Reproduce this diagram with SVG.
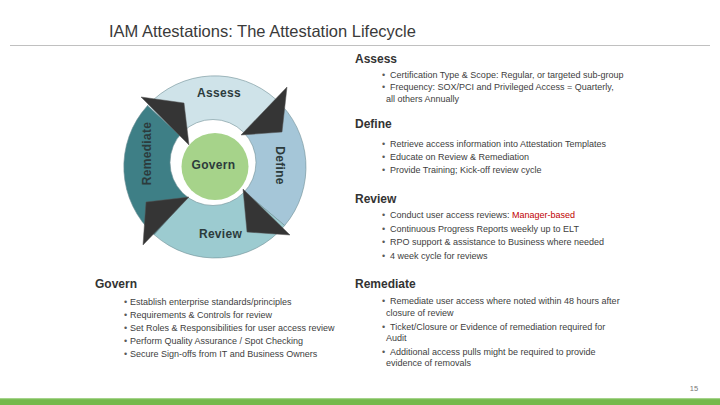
<svg xmlns="http://www.w3.org/2000/svg" width="720" height="405" viewBox="0 0 720 405">
<style>
.title{font-family:"Liberation Sans",Arial,sans-serif;font-size:16.5px;fill:#3a3a3a}
.h{font-family:"Liberation Sans",Arial,sans-serif;font-size:12px;font-weight:bold;fill:#333}
.b{font-family:"Liberation Sans",Arial,sans-serif;font-size:9px;fill:#404040}
.dot{fill:#595959}
.red{fill:#c00000}
.lbl{font-family:"Liberation Sans",Arial,sans-serif;font-size:12px;font-weight:bold;fill:#2c3b3c;letter-spacing:0.3px}
.seg{stroke:#6f8f95;stroke-width:0.6}
.arrow{fill:#353535;stroke:#555;stroke-width:0.5}
</style>
<rect width="720" height="405" fill="#fff"/>
<g id="header">
<text class="title" x="109" y="37">IAM Attestations:  The Attestation Lifecycle</text>
<line x1="10" y1="45.5" x2="710" y2="45.5" stroke="#c0c0c0" stroke-width="1"/>
</g>
<g id="cycle">
<g id="seg-assess"><path class="seg" fill="#cfe3e9" d="M215,167 L147.4,105.7 A91,91 0 0 1 275.9,99.4 Z"/></g>
<g id="seg-define"><path class="seg" fill="#a5c6d8" d="M215,167 L275.9,99.4 A91,91 0 0 1 284.7,225.5 Z"/></g>
<g id="seg-review"><path class="seg" fill="#9ccbd0" d="M215,167 L284.7,225.5 A91,91 0 0 1 154.1,234.6 Z"/></g>
<g id="seg-remediate"><path class="seg" fill="#3e7f86" d="M215,167 L154.1,234.6 A91,91 0 0 1 147.4,105.7 Z"/></g>
<circle cx="213" cy="162.5" r="43" fill="#fff" stroke="#6f8f95" stroke-width="0.6"/>
<g id="govern"><circle cx="215" cy="166.5" r="33.5" fill="#a6d38a"/>
<text class="lbl" x="213.5" y="169" text-anchor="middle" fill="#2f3d33">Govern</text></g>
<text class="lbl" x="219" y="97" text-anchor="middle">Assess</text>
<text class="lbl" x="220.5" y="238" text-anchor="middle">Review</text>
<text class="lbl" transform="translate(276,165.5) rotate(90)" text-anchor="middle">Define</text>
<text class="lbl" transform="translate(151,153.5) rotate(-90)" text-anchor="middle">Remediate</text>
</g>
<g id="connectors">
<polygon class="arrow" points="141,97 184,103 189,145"/>
<polygon class="arrow" points="287,87 241,135 282,132"/>
<polygon class="arrow" points="243,189 247,232 290,235"/>
<polygon class="arrow" points="146,202 189,197 143,245"/>
</g>
<g id="assess-text">
<text class="h" x="355" y="63">Assess</text>
<text class="b dot" x="382" y="77.5">•</text><text class="b" x="390" y="77.5">Certification Type &amp; Scope: Regular, or targeted sub-group</text>
<text class="b dot" x="382" y="90">•</text><text class="b" x="390" y="90">Frequency: SOX/PCI and Privileged Access = Quarterly,</text>
<text class="b" x="386" y="102">all others Annually</text>
</g>
<g id="define-text">
<text class="h" x="355" y="128">Define</text>
<text class="b dot" x="382" y="147">•</text><text class="b" x="390" y="147">Retrieve access information into Attestation Templates</text>
<text class="b dot" x="382" y="160">•</text><text class="b" x="390" y="160">Educate on Review &amp; Remediation</text>
<text class="b dot" x="382" y="173">•</text><text class="b" x="390" y="173">Provide Training; Kick-off review cycle</text>
</g>
<g id="review-text">
<text class="h" x="355" y="203">Review</text>
<text class="b dot" x="382" y="218">•</text><text class="b" x="390" y="218">Conduct user access reviews: <tspan class="red">Manager-based</tspan></text>
<text class="b dot" x="382" y="231.5">•</text><text class="b" x="390" y="231.5">Continuous Progress Reports weekly up to ELT</text>
<text class="b dot" x="382" y="245">•</text><text class="b" x="390" y="245">RPO support &amp; assistance to Business where needed</text>
<text class="b dot" x="382" y="258.5">•</text><text class="b" x="390" y="258.5">4 week cycle for reviews</text>
</g>
<g id="remediate-text">
<text class="h" x="355" y="288">Remediate</text>
<text class="b dot" x="382" y="303.5">•</text><text class="b" x="390" y="303.5">Remediate user access where noted within 48 hours after</text>
<text class="b" x="386" y="315.5">closure of review</text>
<text class="b dot" x="382" y="329.5">•</text><text class="b" x="390" y="329.5">Ticket/Closure or Evidence of remediation required for</text>
<text class="b" x="386" y="341">Audit</text>
<text class="b dot" x="382" y="355">•</text><text class="b" x="390" y="355">Additional access pulls might be required to provide</text>
<text class="b" x="386" y="366">evidence of removals</text>
</g>
<g id="govern-text">
<text class="h" x="95" y="288">Govern</text>
<text class="b dot" x="124" y="305">•</text><text class="b" x="130" y="305">Establish enterprise standards/principles</text>
<text class="b dot" x="124" y="318">•</text><text class="b" x="130" y="318">Requirements &amp; Controls for review</text>
<text class="b dot" x="124" y="331">•</text><text class="b" x="130" y="331">Set Roles &amp; Responsibilities for user access review</text>
<text class="b dot" x="124" y="344">•</text><text class="b" x="130" y="344">Perform  Quality Assurance / Spot Checking</text>
<text class="b dot" x="124" y="357">•</text><text class="b" x="130" y="357">Secure Sign-offs from IT and Business Owners</text>
</g>
<g id="footer">
<text x="694" y="391" text-anchor="middle" font-family="Liberation Sans, Arial, sans-serif" font-size="7.5" fill="#777">15</text>
<rect x="0" y="398" width="720" height="7" fill="#74b94b"/>
<rect x="0" y="398" width="720" height="1.2" fill="#a4d38a"/>
</g>
</svg>
